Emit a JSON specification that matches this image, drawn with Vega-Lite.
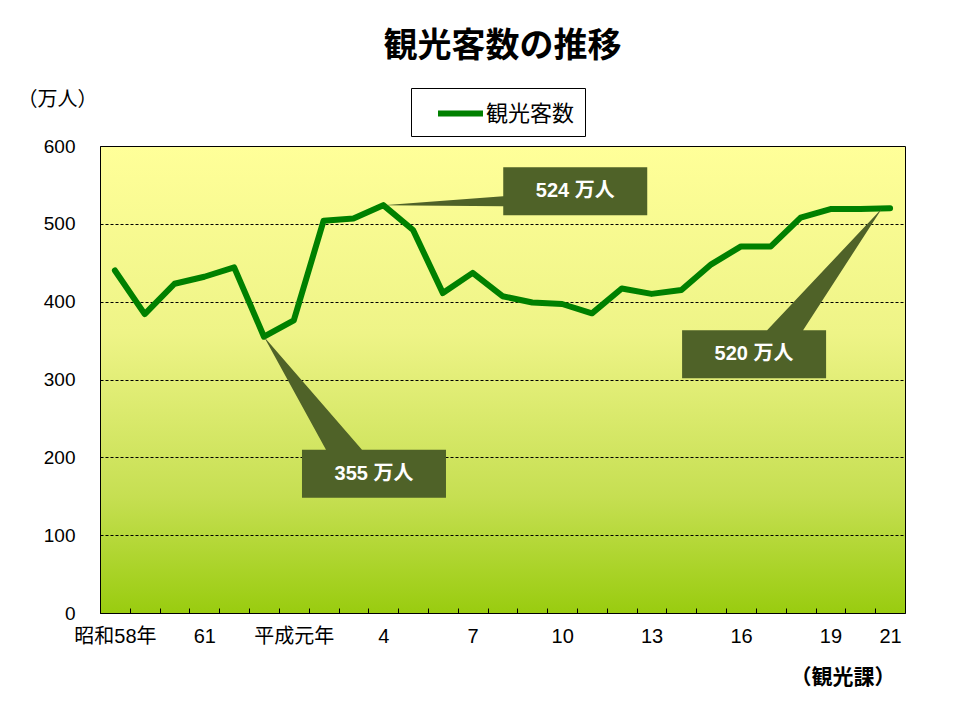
{
  "$schema": "https://vega.github.io/schema/vega-lite/v6.json",
  "width": 805,
  "height": 467,
  "autosize": {"type": "none"},
  "padding": {"left": 100, "top": 146, "right": 70, "bottom": 94},
  "background": "white",
  "title": {
    "text": "観光客数の推移",
    "font": "Noto Sans CJK JP",
    "fontSize": 34,
    "fontWeight": "bold",
    "color": "black",
    "anchor": "middle",
    "offset": 24
  },
  "config": {
    "view": {
      "stroke": "black",
      "strokeWidth": 1,
      "fill": {
        "gradient": "linear",
        "x1": 0, "y1": 0, "x2": 0, "y2": 1,
        "stops": [
          {"offset": 0, "color": "#FFFF99"},
          {"offset": 0.4, "color": "#EEF487"},
          {"offset": 0.75, "color": "#C6DF52"},
          {"offset": 1, "color": "#99CC0F"}
        ]
      }
    }
  },
  "data": {
    "values": [
      {"year": "昭和58年", "value": 440},
      {"year": "59", "value": 384},
      {"year": "60", "value": 423},
      {"year": "61", "value": 432},
      {"year": "62", "value": 444},
      {"year": "63", "value": 355},
      {"year": "平成元年", "value": 376},
      {"year": "2", "value": 504},
      {"year": "3", "value": 507},
      {"year": "4", "value": 524},
      {"year": "5", "value": 492},
      {"year": "6", "value": 411},
      {"year": "7", "value": 437},
      {"year": "8", "value": 407},
      {"year": "9", "value": 399},
      {"year": "10", "value": 397},
      {"year": "11", "value": 385},
      {"year": "12", "value": 417},
      {"year": "13", "value": 410},
      {"year": "14", "value": 415},
      {"year": "15", "value": 448},
      {"year": "16", "value": 471},
      {"year": "17", "value": 471},
      {"year": "18", "value": 508},
      {"year": "19", "value": 519},
      {"year": "20", "value": 519},
      {"year": "21", "value": 520}
    ]
  },
  "encoding": {
    "x": {
      "field": "year",
      "type": "ordinal",
      "sort": null,
      "scale": {"type": "band", "paddingInner": 0, "paddingOuter": 0},
      "axis": {
        "title": "（観光課）",
        "titleFont": "Noto Sans CJK JP",
        "titleFontSize": 21,
        "titleFontWeight": "bold",
        "titleColor": "black",
        "titleAnchor": null,
        "titleAlign": "right",
        "titleBaseline": "middle",
        "titleX": 795,
        "titleY": 64,
        "labelAngle": 0,
        "labelExpr": "indexof(['昭和58年','61','平成元年','4','7','10','13','16','19','21'], datum.value) >= 0 ? datum.value : ''",
        "labelFont": "Liberation Sans, Noto Sans CJK JP",
        "labelFontSize": 20,
        "labelColor": "black",
        "labelPadding": 18,
        "labelOverlap": false,
        "tickBand": "extent",
        "ticks": true,
        "tickSize": -5,
        "tickColor": "black",
        "tickWidth": 1,
        "domain": false,
        "grid": false
      }
    },
    "y": {
      "field": "value",
      "type": "quantitative",
      "scale": {"domain": [0, 600], "nice": false},
      "axis": {
        "title": "（万人）",
        "titleFont": "Noto Sans CJK JP",
        "titleFontSize": 20,
        "titleFontWeight": "normal",
        "titleColor": "black",
        "titleAngle": 0,
        "titleAlign": "left",
        "titleBaseline": "middle",
        "titleAnchor": null,
        "titleX": -83,
        "titleY": -47,
        "values": [0, 100, 200, 300, 400, 500, 600],
        "labelFont": "Liberation Sans, Noto Sans CJK JP",
        "labelFontSize": 19,
        "labelColor": "black",
        "labelPadding": 25,
        "ticks": false,
        "domain": false,
        "grid": true,
        "gridColor": "black",
        "gridDash": [3, 2],
        "gridWidth": 1
      }
    }
  },
  "layer": [
    {
      "mark": {"type": "line", "strokeWidth": 6, "strokeJoin": "round", "strokeCap": "round"},
      "encoding": {
        "color": {
          "datum": "観光客数",
          "type": "nominal",
          "scale": {"range": ["#008000"]},
          "legend": {
            "orient": "none",
            "legendX": 311,
            "legendY": -58,
            "title": null,
            "strokeColor": "black",
            "fillColor": "white",
            "padding": 10,
            "symbolType": "M-1.8,0L1.8,0",
            "symbolSize": 625,
            "symbolOffset": 24,
            "symbolStrokeWidth": 6,
            "labelOffset": 10,
            "labelFont": "Noto Sans CJK JP",
            "labelFontSize": 22,
            "labelColor": "black"
          }
        }
      }
    },
    {
      "transform": [{"filter": "datum.year === '4'"}],
      "mark": {"type": "point", "shape": "M0,0L120,-9L120,-38L264,-38L264,10L120,10L120,1Z", "size": 4, "filled": true, "fill": "#4F6228", "strokeWidth": 0, "opacity": 1}
    },
    {
      "transform": [{"filter": "datum.year === '63'"}],
      "mark": {"type": "point", "shape": "M0,0L98,113L182,113L182,161L38,161L38,113L62,113Z", "size": 4, "filled": true, "fill": "#4F6228", "strokeWidth": 0, "opacity": 1}
    },
    {
      "transform": [{"filter": "datum.year === '21'"}],
      "mark": {"type": "point", "shape": "M-8,0L-87,122L-64,122L-64,170L-208,170L-208,122L-123,122Z", "size": 4, "filled": true, "fill": "#4F6228", "strokeWidth": 0, "opacity": 1}
    },
    {
      "transform": [{"filter": "datum.year === '4'"}, {"calculate": "datum.value + ' 万人'", "as": "label"}],
      "mark": {"type": "text", "dx": 192, "dy": -14, "align": "center", "baseline": "middle", "color": "white", "font": "Liberation Sans, Noto Sans CJK JP", "fontSize": 20, "fontWeight": "bold"},
      "encoding": {"text": {"field": "label"}}
    },
    {
      "transform": [{"filter": "datum.year === '63'"}, {"calculate": "datum.value + ' 万人'", "as": "label"}],
      "mark": {"type": "text", "dx": 110, "dy": 137, "align": "center", "baseline": "middle", "color": "white", "font": "Liberation Sans, Noto Sans CJK JP", "fontSize": 20, "fontWeight": "bold"},
      "encoding": {"text": {"field": "label"}}
    },
    {
      "transform": [{"filter": "datum.year === '21'"}, {"calculate": "datum.value + ' 万人'", "as": "label"}],
      "mark": {"type": "text", "dx": -136, "dy": 146, "align": "center", "baseline": "middle", "color": "white", "font": "Liberation Sans, Noto Sans CJK JP", "fontSize": 20, "fontWeight": "bold"},
      "encoding": {"text": {"field": "label"}}
    }
  ]
}
